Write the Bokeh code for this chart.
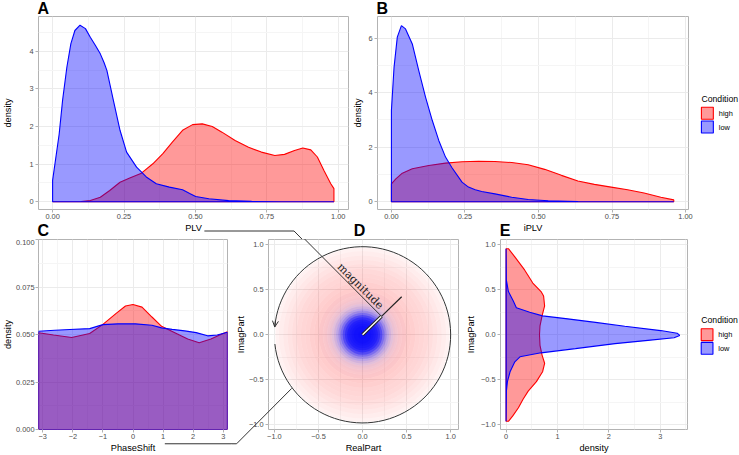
import math
from bokeh.plotting import figure
from bokeh.layouts import column, row
from bokeh.models import Range1d, FixedTicker, Arrow, OpenHead
from bokeh.embed import file_html
from bokeh.resources import INLINE
from bokeh.core.properties import value

# ---------------- data ----------------
# Panel A: density of PLV
A_HIGH_X = [0, 0.1, 0.132, 0.167, 0.2, 0.236, 0.27, 0.311, 0.351, 0.386, 0.42, 0.455, 0.49, 0.524,
            0.559, 0.593, 0.639, 0.686, 0.731, 0.778, 0.812, 0.847, 0.876, 0.904, 0.927, 0.95, 0.974, 0.985]
A_HIGH_Y = [0, 0.005, 0.035, 0.12, 0.3, 0.52, 0.63, 0.76, 1.01, 1.28, 1.59, 1.9, 2.05, 2.07,
            2.0, 1.85, 1.63, 1.45, 1.32, 1.23, 1.26, 1.36, 1.43, 1.38, 1.19, 0.83, 0.48, 0.35]
A_LOW_X = [0, 0.023, 0.035, 0.05, 0.064, 0.078, 0.096, 0.115, 0.132, 0.15, 0.167, 0.18, 0.19, 0.213,
           0.236, 0.259, 0.294, 0.328, 0.363, 0.409, 0.455, 0.48, 0.501, 0.547, 0.616, 0.697, 0.8, 0.985]
A_LOW_Y = [0.57, 1.8, 2.7, 3.58, 4.2, 4.55, 4.69, 4.6, 4.37, 4.15, 3.93, 3.7, 3.49, 2.69,
           1.9, 1.32, 0.92, 0.66, 0.48, 0.39, 0.32, 0.22, 0.14, 0.08, 0.03, 0.01, 0.003, 0]

# Panel B: density of iPLV
B_HIGH_X = [0, 0.015, 0.037, 0.071, 0.127, 0.184, 0.24, 0.296, 0.352, 0.409, 0.465, 0.521, 0.578,
            0.634, 0.69, 0.747, 0.803, 0.859, 0.916, 0.96]
B_HIGH_Y = [0.66, 0.84, 1.05, 1.21, 1.33, 1.42, 1.47, 1.49, 1.48, 1.44, 1.36, 1.19, 0.97,
            0.76, 0.64, 0.54, 0.44, 0.32, 0.17, 0.07]
B_LOW_X = [0, 0.009, 0.02, 0.034, 0.048, 0.071, 0.093, 0.116, 0.139, 0.161, 0.184, 0.206, 0.24,
           0.262, 0.285, 0.307, 0.352, 0.409, 0.465, 0.533, 0.634, 0.75, 0.96]
B_LOW_Y = [3.35, 4.94, 6.04, 6.46, 6.34, 5.79, 4.81, 3.84, 2.98, 2.25, 1.64, 1.25, 0.72,
           0.54, 0.44, 0.38, 0.29, 0.17, 0.085, 0.04, 0.01, 0.003, 0]

# Panel C: density of PhaseShift
C_HIGH_X = [-3.14, -2.64, -2.04, -1.44, -1.01, -0.57, -0.25, 0, 0.3, 0.63, 0.95, 1.39, 1.82,
            2.2, 2.59, 2.92, 3.14]
C_HIGH_Y = [0.0509, 0.0497, 0.0484, 0.0505, 0.0552, 0.061, 0.065, 0.0658, 0.0644, 0.0592, 0.0543,
            0.0509, 0.0476, 0.0457, 0.0476, 0.05, 0.0514]
C_LOW_X = [-3.14, -2.6, -2.1, -1.44, -1.0, -0.5, 0.08, 0.63, 0.95, 1.3, 1.72, 2.1, 2.48, 2.8, 3.14]
C_LOW_Y = [0.0517, 0.0522, 0.0526, 0.0531, 0.0552, 0.0556, 0.0556, 0.0549, 0.0535, 0.0527,
           0.0519, 0.051, 0.0493, 0.0497, 0.0512]

# Panel D: radial profile of the point cloud (opacity per ring) of RealPart / ImagPart
RED_RING_EDGES = [0, 0.05, 0.1, 0.15, 0.2, 0.25, 0.3, 0.35, 0.4, 0.45, 0.5, 0.55, 0.6, 0.65,
                  0.7, 0.75, 0.8, 0.85, 0.9, 0.95, 0.99]
RED_RING_ALPHA = [0.08, 0.08, 0.09, 0.1, 0.11, 0.12, 0.15, 0.18, 0.2, 0.21, 0.2, 0.19, 0.17,
                  0.16, 0.15, 0.13, 0.11, 0.09, 0.07, 0.05]
BLUE_RING_EDGES = [0, 0.025, 0.05, 0.075, 0.1, 0.125, 0.15, 0.175, 0.2, 0.225, 0.25, 0.275, 0.3,
                   0.325, 0.35, 0.375, 0.4, 0.425, 0.45, 0.475, 0.5]
BLUE_RING_ALPHA = [0.93, 0.93, 0.92, 0.92, 0.9, 0.88, 0.85, 0.78, 0.66, 0.5, 0.36, 0.25, 0.17,
                   0.11, 0.07, 0.05, 0.03, 0.02, 0.015, 0.01]
MAG_TIP = (0.444, 0.423)      # end of the magnitude vector
MAG_MARK = 0.485              # fraction of the vector where the "magnitude" pointer lands
ARC_START_DEG = 186           # phase circle with arrow
ARC_END_DEG = 175
PHASE_POINT_DEG = 216.5       # where the PhaseShift pointer meets the circle

# Panel E: density of ImagPart (flipped)
E_HIGH_Y = [0.956, 0.865, 0.72, 0.575, 0.48, 0.43, 0.32, 0.21, 0.10, 0, -0.116, -0.225, -0.316,
            -0.41, -0.52, -0.625, -0.716, -0.81, -0.9, -0.96]
E_HIGH_D = [0.045, 0.17, 0.36, 0.52, 0.68, 0.73, 0.75, 0.70, 0.66, 0.65, 0.66, 0.70, 0.75,
            0.71, 0.59, 0.43, 0.33, 0.24, 0.13, 0.045]
E_LOW_Y = [0.956, 0.61, 0.48, 0.375, 0.30, 0.25, 0.21, 0.18, 0.138, 0.095, 0.047, 0.018, -0.007,
           -0.033, -0.062, -0.098, -0.153, -0.2, -0.244, -0.3, -0.41, -0.52, -0.625, -0.96]
E_LOW_D = [0, 0.005, 0.045, 0.14, 0.2, 0.46, 0.71, 1.16, 1.74, 2.31, 3.01, 3.33, 3.38,
           3.27, 2.76, 2.12, 1.35, 0.68, 0.27, 0.17, 0.077, 0.026, 0.006, 0]

CONDITIONS = ["high", "low"]
COLORS = {"high": "red", "low": "blue"}
LEGEND_TITLE = "Condition"

# ticks
T_01 = [0, 0.25, 0.5, 0.75, 1.0]
T_01_LAB = ["0.00", "0.25", "0.50", "0.75", "1.00"]
T_01_MIN = [0.125, 0.375, 0.625, 0.875]
A_YT, A_YL, A_YM = [0, 1, 2, 3, 4], ["0", "1", "2", "3", "4"], [0.5, 1.5, 2.5, 3.5, 4.5]
B_YT, B_YL, B_YM = [0, 2, 4, 6], ["0", "2", "4", "6"], [1, 3, 5]
C_XT = [-3, -2, -1, 0, 1, 2, 3]
C_XL = ["\u22123", "\u22122", "\u22121", "0", "1", "2", "3"]
C_XM = [-2.5, -1.5, -0.5, 0.5, 1.5, 2.5]
C_YT = [0, 0.025, 0.05, 0.075, 0.1]
C_YL = ["0.000", "0.025", "0.050", "0.075", "0.100"]
C_YM = [0.0125, 0.0375, 0.0625, 0.0875]
U_T = [-1.0, -0.5, 0, 0.5, 1.0]
U_L = ["\u22121.0", "\u22120.5", "0.0", "0.5", "1.0"]
U_M = [-0.75, -0.25, 0.25, 0.75]
E_XT, E_XL, E_XM = [0, 1, 2, 3], ["0", "1", "2", "3"], [0.5, 1.5, 2.5, 3.5]

# ---------------- layout geometry (pixels from the page's top-left) ----------------
FONT = "Liberation Sans"
TICK_FS, TITLE_FS, TAG_FS = "7.4px", "9.2px", "16px"
TOP_H, BOT_H = 239, 216
GEO = {
    "A": dict(left=0, top=0, w=350, h=TOP_H, b=(34, 2, 16, 30), xr=(-0.0494, 1.036), yr=(-0.2045, 4.922)),
    "B": dict(left=350, top=0, w=389, h=TOP_H, b=(25, 51, 16, 30), xr=(-0.0473, 1.0101), yr=(-0.282, 6.795)),
    "C": dict(left=0, top=TOP_H, w=232, h=BOT_H, b=(34, 5, 0, 23), xr=(-math.pi, math.pi), yr=(0, 0.1)),
    "D": dict(left=232, top=TOP_H, w=230, h=BOT_H, b=(32, 4, 0, 23), xr=(-1.067, 1.089), yr=(-1.051, 1.058)),
    "E": dict(left=462, top=TOP_H, w=277, h=BOT_H, b=(34, 52, 0, 23), xr=(-0.109, 3.531), yr=(-1.051, 1.058)),
}


def frame_box(g):
    l, r, t, b = g["b"]
    return g["left"] + l, g["left"] + g["w"] - r, g["top"] + t, g["top"] + g["h"] - b


def to_data(g, sx, sy):
    fl, fr, ft, fb = frame_box(g)
    x0, x1 = g["xr"]
    y0, y1 = g["yr"]
    return x0 + (sx - fl) / (fr - fl) * (x1 - x0), y1 - (sy - ft) / (fb - ft) * (y1 - y0)


def to_px(g, x, y):
    fl, fr, ft, fb = frame_box(g)
    x0, x1 = g["xr"]
    y0, y1 = g["yr"]
    return fl + (x - x0) / (x1 - x0) * (fr - fl), ft + (y1 - y) / (y1 - y0) * (fb - ft)


def make_fig(key):
    g = GEO[key]
    l, r, t, b = g["b"]
    p = figure(width=g["w"], height=g["h"], x_range=Range1d(*g["xr"]), y_range=Range1d(*g["yr"]),
               toolbar_location=None, output_backend="svg",
               min_border_left=l, min_border_right=r, min_border_top=t, min_border_bottom=b)
    p.border_fill_color = None
    p.background_fill_color = "white"
    p.outline_line_color = "#B3B3B3"
    p.outline_line_width = 1
    return p


def style_axes(p, xt, xl, xm, yt, yl, ym, xlab, ylab, ylab_standoff=0, ytick_standoff=1):
    for ax, ticks, labels, minor, lab in ((p.xaxis[0], xt, xl, xm, xlab),
                                          (p.yaxis[0], yt, yl, ym, ylab)):
        ax.ticker = FixedTicker(ticks=ticks, minor_ticks=minor)
        ax.major_label_overrides = {t: s for t, s in zip(ticks, labels)}
        ax.axis_label = lab
        ax.axis_line_color = None
        ax.major_tick_line_color = "#B3B3B3"
        ax.major_tick_out = 3
        ax.major_tick_in = 0
        ax.minor_tick_line_color = None
        ax.major_label_text_font = FONT
        ax.major_label_text_font_size = TICK_FS
        ax.major_label_text_color = "#4D4D4D"
        ax.major_label_standoff = 0
        ax.axis_label_text_font = FONT
        ax.axis_label_text_font_size = TITLE_FS
        ax.axis_label_text_font_style = "normal"
        ax.axis_label_text_color = "black"
        ax.axis_label_standoff = 1
    p.yaxis[0].axis_label_standoff = ylab_standoff
    p.yaxis[0].major_label_standoff = ytick_standoff
    for g in (p.xgrid[0], p.ygrid[0]):
        g.grid_line_color = "#EBEBEB"
        g.grid_line_width = 1
        g.minor_grid_line_color = "#F5F5F5"
        g.minor_grid_line_width = 1


def density(p, xs, ys, color, flip=False):
    if flip:
        px = [0] + list(xs) + [0]
        py = [ys[0]] + list(ys) + [ys[-1]]
    else:
        px = [xs[0]] + list(xs) + [xs[-1]]
        py = [0] + list(ys) + [0]
    return p.patch(px, py, fill_color=color, fill_alpha=0.4, line_color=color, line_width=1.1)


def add_text(p, key, text, sx, sy, size, align="left", baseline="middle", style="normal"):
    x, y = to_data(GEO[key], sx, sy)
    p.text([x], [y], text=[text], text_font=value(FONT), text_font_style=style,
           text_font_size=size, text_align=align, text_baseline=baseline,
           text_color="black", level="overlay")


def add_key_legend(p, key, title_y, key_ys, x_left=701, size=12):
    """Condition legend drawn beside the panel (outside the frame)."""
    add_text(p, key, LEGEND_TITLE, x_left, title_y, "8.7px")
    g = GEO[key]
    for cond, ky in zip(CONDITIONS, key_ys):
        corners = [(x_left, ky - size / 2), (x_left + size, ky - size / 2),
                   (x_left + size, ky + size / 2), (x_left, ky + size / 2)]
        xs, ys = zip(*[to_data(g, sx, sy) for sx, sy in corners])
        p.patch(list(xs), list(ys), fill_color=COLORS[cond], fill_alpha=0.4,
                line_color=COLORS[cond], line_width=1.1, level="overlay")
        add_text(p, key, cond, x_left + size + 5.5, ky, TICK_FS)


def add_pointer(p, key, pts):
    xs, ys = zip(*[to_data(GEO[key], sx, sy) for sx, sy in pts])
    p.line(list(xs), list(ys), line_color="#333333", line_width=1, level="overlay")


# ---------------- A ----------------
pA = make_fig("A")
style_axes(pA, T_01, T_01_LAB, T_01_MIN, A_YT, A_YL, A_YM, "PLV", "density", ylab_standoff=13)
density(pA, A_HIGH_X, A_HIGH_Y, COLORS["high"])
density(pA, A_LOW_X, A_LOW_Y, COLORS["low"])

# ---------------- B ----------------
pB = make_fig("B")
style_axes(pB, T_01, T_01_LAB, T_01_MIN, B_YT, B_YL, B_YM, "iPLV", "density", ylab_standoff=2)
density(pB, B_HIGH_X, B_HIGH_Y, COLORS["high"])
density(pB, B_LOW_X, B_LOW_Y, COLORS["low"])
add_key_legend(pB, "B", 98, [112.7, 126.5])

# ---------------- C ----------------
pC = make_fig("C")
style_axes(pC, C_XT, C_XL, C_XM, C_YT, C_YL, C_YM, "PhaseShift", "density",
           ylab_standoff=0, ytick_standoff=0)
density(pC, C_HIGH_X, C_HIGH_Y, COLORS["high"])
density(pC, C_LOW_X, C_LOW_Y, COLORS["low"])

# ---------------- D ----------------
pD = make_fig("D")
style_axes(pD, U_T, U_L, U_M, U_T, U_L, U_M, "RealPart", "ImagPart", ylab_standoff=0)
pD.annulus(x=0, y=0, inner_radius=RED_RING_EDGES[:-1], outer_radius=RED_RING_EDGES[1:],
           fill_color="red", fill_alpha=RED_RING_ALPHA, line_color=None)
# blue cloud as nested discs (outermost first) reproducing the ring opacities
blue_disc_alpha = []
for k in range(len(BLUE_RING_ALPHA)):
    outer = BLUE_RING_ALPHA[k + 1] if k + 1 < len(BLUE_RING_ALPHA) else 0.0
    blue_disc_alpha.append(max(0.0, 1 - (1 - BLUE_RING_ALPHA[k]) / (1 - outer)))
radii = BLUE_RING_EDGES[1:]
order = list(range(len(radii)))[::-1]
pD.circle(x=[0] * len(radii), y=[0] * len(radii), radius=[radii[i] for i in order],
          fill_color="blue", fill_alpha=[blue_disc_alpha[i] for i in order], line_color=None)
a0, a1 = math.radians(ARC_START_DEG), math.radians(ARC_END_DEG)
pD.arc(x=0, y=0, radius=1, start_angle=a0, end_angle=a1, direction="anticlock",
       line_color="#333333", line_width=1)
ah = math.radians(ARC_END_DEG - 4)
pD.add_layout(Arrow(end=OpenHead(size=6, line_color="#333333", line_width=1),
                    x_start=math.cos(ah), y_start=math.sin(ah), x_end=math.cos(a1), y_end=math.sin(a1),
                    line_color="#333333", line_width=1))
mid = (MAG_TIP[0] * MAG_MARK, MAG_TIP[1] * MAG_MARK)
pD.line([0, mid[0]], [0, mid[1]], line_color="#222222", line_width=3.4)
pD.line([0, mid[0]], [0, mid[1]], line_color="white", line_width=1.4)
pD.line([mid[0], MAG_TIP[0]], [mid[1], MAG_TIP[1]], line_color="#222222", line_width=1.2)
pD.text(x=[mid[0] - 0.24], y=[mid[1] + 0.335], text=["magnitude"], angle=-math.pi / 4,
        text_font=value("DejaVu Serif"), text_font_size="11px", text_align="center",
        text_baseline="middle", text_color="#222222")

# ---------------- E ----------------
pE = make_fig("E")
style_axes(pE, E_XT, E_XL, E_XM, U_T, U_L, U_M, "density", "ImagPart", ylab_standoff=2)
density(pE, E_HIGH_D, E_HIGH_Y, COLORS["high"], flip=True)
density(pE, E_LOW_D, E_LOW_Y, COLORS["low"], flip=True)
add_key_legend(pE, "E", 320.3, [335.7, 349.5])

# ---------------- panel tags (cap centres) ----------------
add_text(pA, "A", "A", 33, 7.5, TAG_FS, style="bold")
add_text(pA, "A", "C", 33, 229.5, TAG_FS, style="bold")
add_text(pB, "B", "B", 374, 7.5, TAG_FS, style="bold")
add_text(pB, "B", "D", 357, 229.5, TAG_FS, align="center", style="bold")
add_text(pB, "B", "E", 498, 229.5, TAG_FS, style="bold")

# ---------------- pointers (PLV -> magnitude, PhaseShift -> circle) ----------------
ex, ey = to_px(GEO["D"], *mid)
y0 = 230.5
plv_pts = [(202, y0), (ex - (ey - y0), y0), (ex, ey)]
add_pointer(pA, "A", plv_pts)
add_pointer(pD, "D", plv_pts)
cx, cy = to_px(GEO["D"], math.cos(math.radians(PHASE_POINT_DEG)), math.sin(math.radians(PHASE_POINT_DEG)))
y1 = 446.5
ph_pts = [(163, y1), (cx - (y1 - cy), y1), (cx, cy)]
add_pointer(pC, "C", ph_pts)
add_pointer(pD, "D", ph_pts)

root = column(row(pA, pB), row(pC, pD, pE))

open("out.html", "w").write(file_html(root, INLINE))
